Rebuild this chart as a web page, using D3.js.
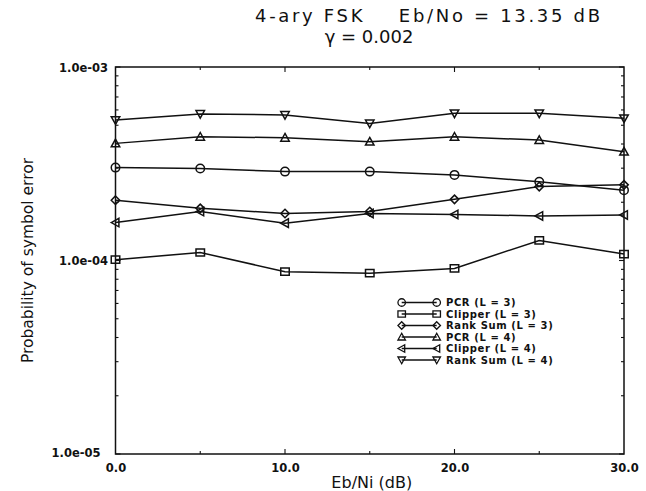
<!DOCTYPE html>
<html>
<head>
<meta charset="utf-8">
<script src="https://cdn.jsdelivr.net/npm/d3@7"></script>
<style>
  html, body { margin: 0; padding: 0; background: #fff; }
  svg { display: block; }
  text { fill: #111; }
</style>
</head>
<body>
<svg id="chart" width="646" height="491"></svg>
<script>
// Eb/Ni values (dB) on the x axis
const ebni = [0, 5, 10, 15, 20, 25, 30];

// Probability of symbol error for each receiver
const pcrL3     = [3.02e-4, 2.99e-4, 2.88e-4, 2.88e-4, 2.77e-4, 2.55e-4, 2.31e-4];
const clipperL3 = [1.01e-4, 1.10e-4, 8.75e-5, 8.6e-5, 9.1e-5, 1.27e-4, 1.08e-4];
const rankSumL3 = [2.05e-4, 1.86e-4, 1.75e-4, 1.79e-4, 2.07e-4, 2.41e-4, 2.46e-4];
const pcrL4     = [4.03e-4, 4.36e-4, 4.31e-4, 4.11e-4, 4.36e-4, 4.19e-4, 3.65e-4];
const clipperL4 = [1.57e-4, 1.79e-4, 1.56e-4, 1.75e-4, 1.73e-4, 1.70e-4, 1.72e-4];
const rankSumL4 = [5.32e-4, 5.72e-4, 5.65e-4, 5.11e-4, 5.76e-4, 5.76e-4, 5.43e-4];

const seriesNames = ["PCR (L = 3)", "Clipper (L = 3)", "Rank Sum (L = 3)",
                     "PCR (L = 4)", "Clipper (L = 4)", "Rank Sum (L = 4)"];
const seriesMarkers = ["circle", "square", "diamond", "triUp", "triLeft", "triDown"];
const seriesValues = [pcrL3, clipperL3, rankSumL3, pcrL4, clipperL4, rankSumL4];

const xTickValues = [0, 10, 20, 30];
const xTickLabels = ["0.0", "10.0", "20.0", "30.0"];
const yTickValues = [1e-3, 1e-4, 1e-5];
const yTickLabels = ["1.0e-03", "1.0e-04", "1.0e-05"];

const titleLine1 = "4-ary FSK    Eb/No = 13.35 dB";
const titleLine2 = "\u03b3 = 0.002";
const xTitle = "Eb/Ni (dB)";
const yTitle = "Probability of symbol error";

const svg = d3.select("#chart");
const plot = { left: 115.5, right: 624, top: 67, bottom: 454 };

const x = d3.scaleLinear().domain([0, 30]).range([plot.left, plot.right]);
const y = d3.scaleLog().domain([1e-5, 1e-3]).range([plot.bottom, plot.top]);

const font = "'DejaVu Sans', sans-serif";

// Two-line title
svg.append("text").attr("x", 255).attr("y", 21.5)
  .attr("xml:space", "preserve").style("white-space", "pre")
  .attr("textLength", 345).attr("lengthAdjust", "spacing")
  .style("font-family", font).style("font-size", "18px")
  .text(titleLine1);
svg.append("text").attr("x", 369).attr("y", 42.5)
  .attr("text-anchor", "middle")
  .style("font-family", font).style("font-size", "18px")
  .text(titleLine2);

// Inward ticks on all four sides
const minorY = [];
for (let e = -5; e < -3; e++) {
  for (let m = 2; m <= 9; m++) minorY.push(m * Math.pow(10, e));
}
const tickG = svg.append("g").attr("stroke", "#111").attr("stroke-width", 1.1);
minorY.forEach(v => {
  tickG.append("line").attr("x1", x(0)).attr("x2", x(0) + 3).attr("y1", y(v)).attr("y2", y(v));
  tickG.append("line").attr("x1", x(30)).attr("x2", x(30) - 3).attr("y1", y(v)).attr("y2", y(v));
});
yTickValues.forEach(v => {
  tickG.append("line").attr("x1", x(0)).attr("x2", x(0) + 5).attr("y1", y(v)).attr("y2", y(v));
  tickG.append("line").attr("x1", x(30)).attr("x2", x(30) - 5).attr("y1", y(v)).attr("y2", y(v));
});
d3.range(5, 30, 5).forEach(v => {
  const len = (v % 10 === 0) ? 5 : 3;
  tickG.append("line").attr("x1", x(v)).attr("x2", x(v)).attr("y1", y(1e-5)).attr("y2", y(1e-5) - len);
  tickG.append("line").attr("x1", x(v)).attr("x2", x(v)).attr("y1", y(1e-3)).attr("y2", y(1e-3) + len);
});

// Frame
svg.append("rect")
  .attr("x", x(0)).attr("y", y(1e-3))
  .attr("width", x(30) - x(0)).attr("height", y(1e-5) - y(1e-3))
  .attr("fill", "none").attr("stroke", "#111").attr("stroke-width", 1.5);

// Tick labels
const xAxis = d3.axisBottom(x).tickValues(xTickValues)
  .tickFormat((d, i) => xTickLabels[i]).tickSize(0).tickPadding(0);
const gx = svg.append("g").attr("transform", `translate(0,${plot.bottom})`).call(xAxis);
gx.select(".domain").remove();
gx.selectAll("text").attr("dy", null).attr("y", 17.5)
  .style("font-family", font).style("font-size", "11.5px").style("font-weight", "bold")
  .attr("fill", "#111");

const yAxis = d3.axisLeft(y).tickValues(yTickValues)
  .tickFormat((d, i) => yTickLabels[i]).tickSize(0).tickPadding(0);
const gy = svg.append("g").attr("transform", `translate(${plot.left},0)`).call(yAxis);
gy.select(".domain").remove();
gy.selectAll("text")
  .attr("x", (d, i) => i === 2 ? -15 : -7.5)
  .attr("dy", (d, i) => i === 2 ? "0.2em" : "0.36em")
  .style("font-family", font).style("font-size", "11.5px").style("font-weight", "bold")
  .attr("fill", "#111");

// Axis titles
svg.append("text")
  .attr("x", x(15) + 2).attr("y", 488)
  .attr("text-anchor", "middle")
  .style("font-family", font).style("font-size", "16px")
  .text(xTitle);
svg.append("text")
  .attr("transform", `translate(33,${(plot.top + plot.bottom) / 2}) rotate(-90)`)
  .attr("text-anchor", "middle")
  .style("font-family", font).style("font-size", "15.5px")
  .text(yTitle);

// Marker shapes
function markerPath(kind, s) {
  const h = s / 2;
  switch (kind) {
    case "circle": return d3.symbol(d3.symbolCircle, Math.PI * h * h)();
    case "square": return `M${-h},${-h * 0.85}H${h}V${h * 0.85}H${-h}Z`;
    case "diamond": return `M0,${-h}L${h},0L0,${h}L${-h},0Z`;
    case "triUp": return `M0,${-h}L${h},${h * 0.8}L${-h},${h * 0.8}Z`;
    case "triDown": return `M0,${h}L${h},${-h * 0.8}L${-h},${-h * 0.8}Z`;
    case "triLeft": return `M${-h},0L${h * 0.8},${-h}L${h * 0.8},${h}Z`;
  }
}

const line = d3.line().x((d, i) => x(ebni[i])).y(d => y(d));
const dataG = svg.append("g");
seriesValues.forEach((vals, k) => {
  dataG.append("path").datum(vals).attr("d", line)
    .attr("fill", "none").attr("stroke", "#111").attr("stroke-width", 1.5);
  dataG.selectAll(null).data(vals).enter().append("path")
    .attr("transform", (d, i) => `translate(${x(ebni[i])},${y(d)})`)
    .attr("d", markerPath(seriesMarkers[k], 8.5))
    .attr("fill", "none").attr("stroke", "#111").attr("stroke-width", 1.5);
});

// Legend
const legend = svg.append("g");
const legX1 = 401.7, legX2 = 436.7, legTextX = 446, legY0 = 302.5, legDy = 11.5;
seriesNames.forEach((name, k) => {
  const yy = legY0 + k * legDy;
  legend.append("line").attr("x1", legX1).attr("x2", legX2).attr("y1", yy).attr("y2", yy)
    .attr("stroke", "#111").attr("stroke-width", 1.3);
  [legX1, legX2].forEach(xx => {
    legend.append("path").attr("transform", `translate(${xx},${yy})`)
      .attr("d", markerPath(seriesMarkers[k], 7.5))
      .attr("fill", "none").attr("stroke", "#111").attr("stroke-width", 1.3);
  });
  legend.append("text").attr("x", legTextX).attr("y", yy + 3.6)
    .style("font-family", font).style("font-size", "10px").style("font-weight", "bold")
    .style("letter-spacing", "0.6px")
    .text(name);
});
</script>
</body>
</html>
